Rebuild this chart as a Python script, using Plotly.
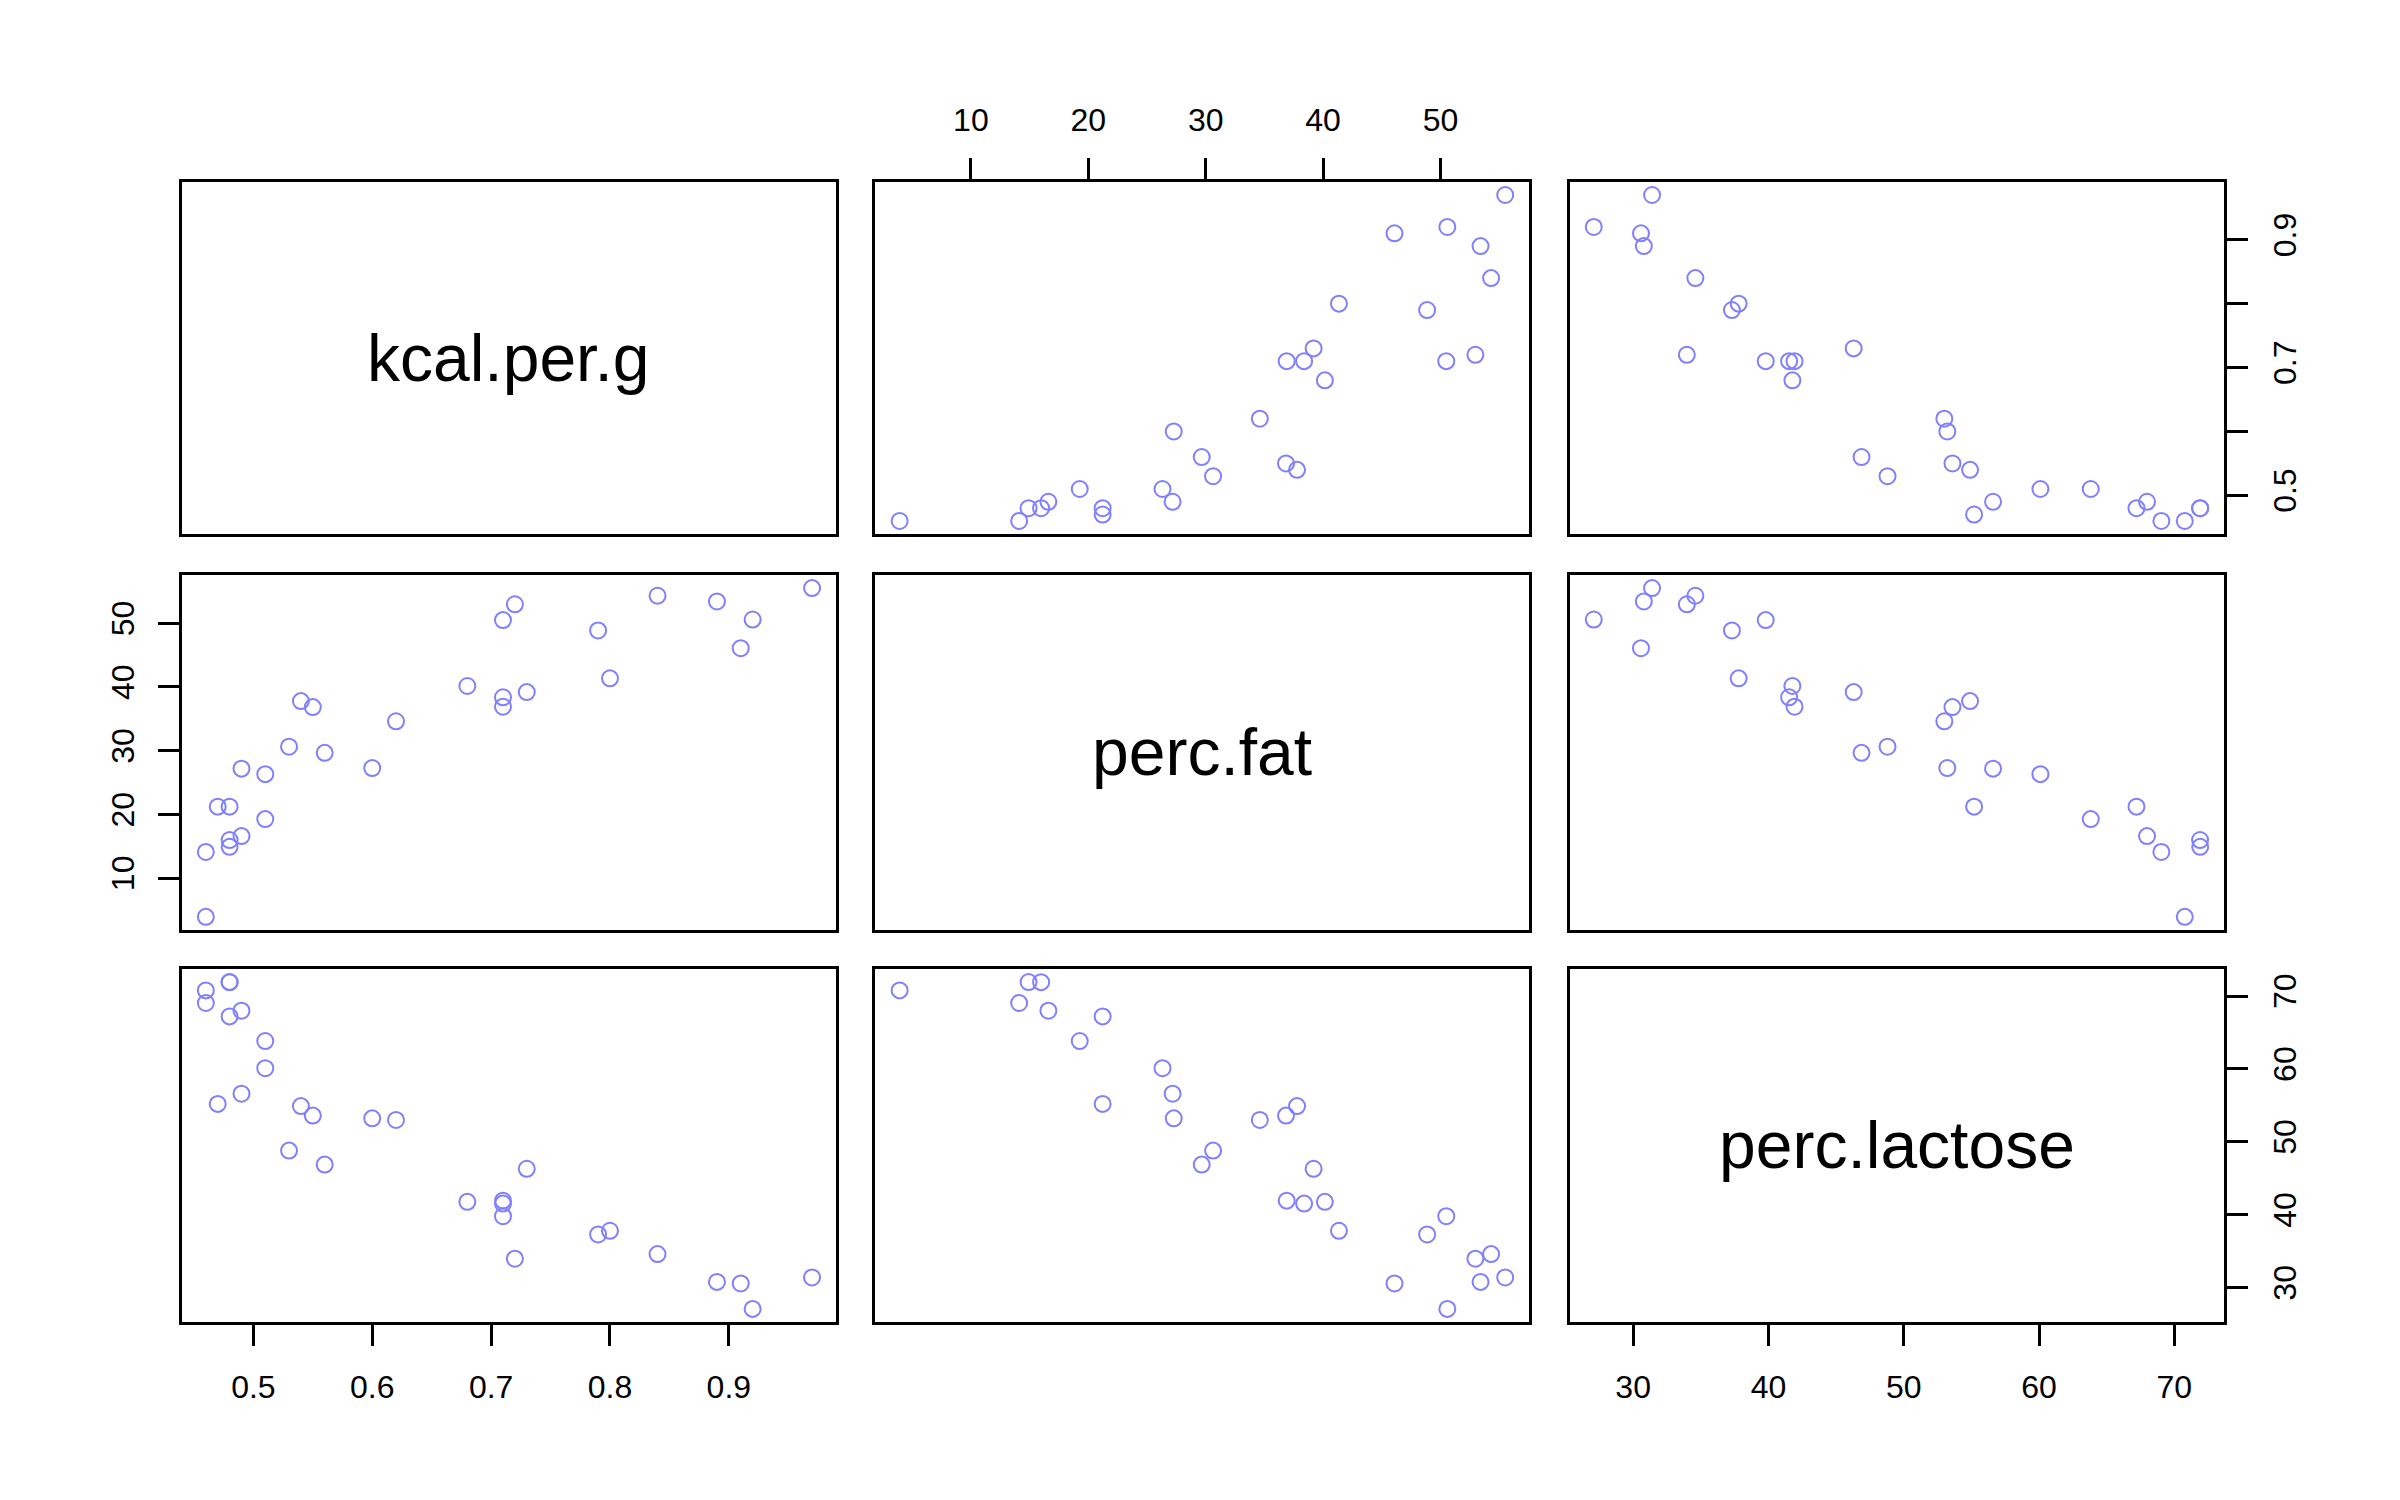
import plotly.graph_objects as go

# primate milk: energy density, percent fat, percent lactose
kcal_per_g = [0.49, 0.51, 0.46, 0.48, 0.60, 0.47, 0.56, 0.89, 0.91, 0.92,
              0.80, 0.46, 0.71, 0.71, 0.73, 0.68, 0.72, 0.97, 0.79, 0.84,
              0.48, 0.62, 0.51, 0.54, 0.49, 0.53, 0.48, 0.55, 0.71]
perc_fat = [16.60, 19.27, 14.11, 14.91, 27.28, 21.22, 29.66, 53.41, 46.08, 50.58,
            41.35, 3.93, 38.38, 36.90, 39.19, 40.15, 52.97, 55.51, 48.86, 54.31,
            15.98, 34.61, 26.32, 37.78, 27.18, 30.63, 21.22, 36.84, 50.49]
perc_lactose = [67.98, 63.82, 69.04, 71.91, 53.22, 55.20, 46.88, 30.79, 30.58, 27.09,
                37.80, 70.77, 41.53, 41.93, 46.30, 41.77, 33.97, 31.40, 37.30, 34.60,
                71.90, 53.00, 60.10, 54.90, 56.60, 48.80, 67.20, 53.60, 39.80]

var_names = ["kcal.per.g", "perc.fat", "perc.lactose"]
kcal_ticks = [0.5, 0.6, 0.7, 0.8, 0.9]
kcal_labels = ["0.5", "0.6", "0.7", "0.8", "0.9"]
kcal_right_labels = ["0.5", "", "0.7", "", "0.9"]
fat_ticks = [10, 20, 30, 40, 50]
lactose_ticks = [30, 40, 50, 60, 70]

data = [kcal_per_g, perc_fat, perc_lactose]

# panel placement (paper fractions); small nudge for the page offset
DX = -4.5 / 2400
DY = 5 / 1500
col_dom = [[0.0742 + DX, 0.3470 + DX], [0.3633 + DX, 0.6358 + DX], [0.6525 + DX, 0.9254 + DX]]
row_dom = [[0.6460 + DY, 0.8807 + DY], [0.3820 + DY, 0.6187 + DY], [0.1207 + DY, 0.3560 + DY]]

FONT = "Arial, Liberation Sans, sans-serif"
PT_COLOR = "#8080FF"


def pad_range(v):
    # R extends axis ranges by 4% each side
    lo, hi = min(v), max(v)
    d = (hi - lo) * 0.04
    return [lo - d, hi + d]


ranges = [pad_range(v) for v in data]


def base_axis(rng, dom, anchor):
    return dict(range=rng, domain=dom, anchor=anchor,
                showline=True, mirror=True, linecolor="black", linewidth=3,
                showgrid=False, zeroline=False, ticks="", showticklabels=False,
                fixedrange=True)


def tick_opts(vals, text, side, angle=0, standoff=14):
    return dict(side=side, ticks="outside", ticklen=21, tickwidth=3,
                tickcolor="black", tickvals=vals, ticktext=text,
                showticklabels=True, tickangle=angle,
                ticklabelstandoff=standoff,
                tickfont=dict(family=FONT, size=32, color="black"))


fig = go.Figure()
layout = {}
annotations = []

for i in range(3):
    for j in range(3):
        k = i * 3 + j + 1
        xa = "xaxis" if k == 1 else "xaxis%d" % k
        ya = "yaxis" if k == 1 else "yaxis%d" % k
        xr = "x" if k == 1 else "x%d" % k
        yr = "y" if k == 1 else "y%d" % k
        xax = base_axis(ranges[j], col_dom[j], yr)
        yax = base_axis(ranges[i], row_dom[i], xr)

        # outer axes alternate sides, as in R's pairs()
        if i == 0 and j == 1:
            xax.update(tick_opts(fat_ticks, [str(t) for t in fat_ticks], "top"))
        if i == 2 and j == 0:
            xax.update(tick_opts(kcal_ticks, kcal_labels, "bottom"))
        if i == 2 and j == 2:
            xax.update(tick_opts(lactose_ticks, [str(t) for t in lactose_ticks], "bottom"))
        if i == 0 and j == 2:
            yax.update(tick_opts(kcal_ticks, kcal_right_labels, "right", -90, 9))
        if i == 1 and j == 0:
            yax.update(tick_opts(fat_ticks, [str(t) for t in fat_ticks], "left", -90, 11))
        if i == 2 and j == 2:
            yax.update(tick_opts(lactose_ticks, [str(t) for t in lactose_ticks], "right", -90, 9))

        layout[xa] = xax
        layout[ya] = yax

        if i == j:
            # empty trace so the diagonal box gets drawn
            fig.add_trace(go.Scatter(x=[None], y=[None], xaxis=xr, yaxis=yr,
                                     mode="markers", hoverinfo="skip"))
            annotations.append(dict(text=var_names[i], x=0.5, y=0.5,
                                    xref=xr + " domain", yref=yr + " domain",
                                    showarrow=False,
                                    font=dict(family=FONT, size=66, color="black")))
        else:
            fig.add_trace(go.Scatter(x=data[j], y=data[i], xaxis=xr, yaxis=yr,
                                     mode="markers",
                                     marker=dict(symbol="circle-open", size=16,
                                                 color=PT_COLOR,
                                                 line=dict(color=PT_COLOR, width=2)),
                                     hoverinfo="x+y"))

fig.update_layout(**layout)
fig.update_layout(width=2400, height=1500,
                  margin=dict(l=0, r=0, t=0, b=0),
                  paper_bgcolor="white", plot_bgcolor="white",
                  showlegend=False, annotations=annotations)

fig.write_html("out.html")
